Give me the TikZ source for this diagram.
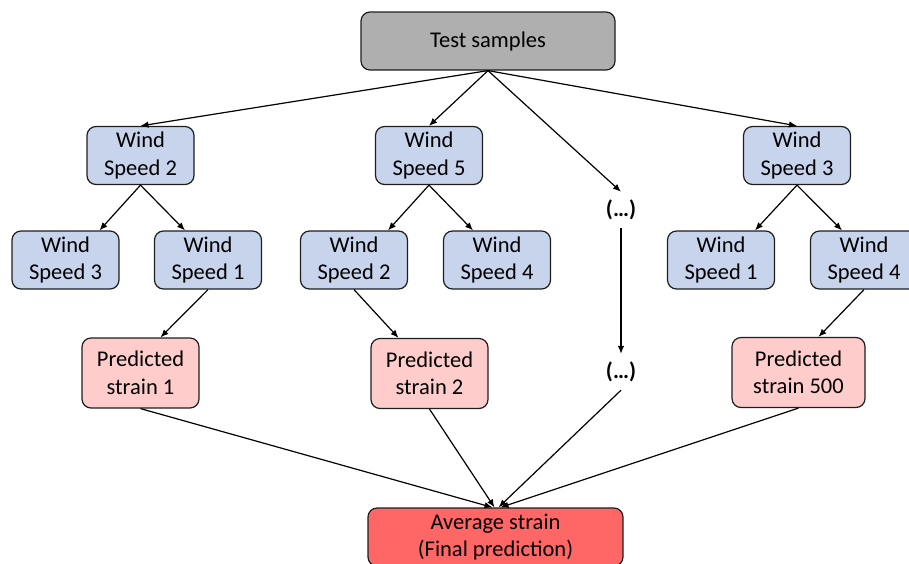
\documentclass[tikz,border=0pt]{standalone}
\usepackage{fontspec}
\setmainfont{Carlito}
\usetikzlibrary{arrows.meta}
\definecolor{boxgray}{HTML}{AFAFAF}
\definecolor{boxblue}{HTML}{C7D4EC}
\definecolor{boxpink}{HTML}{FFCCCC}
\definecolor{boxred}{HTML}{FF6666}
\definecolor{edge}{HTML}{1E1E1E}
\tikzset{
  box/.style={draw=edge, line width=1.2pt, rounded corners=9pt, inner sep=0pt,
    align=center, font=\fontsize{22.5}{27.5}\selectfont},
  featbox/.style={box, fill=boxblue, minimum width=107pt, minimum height=58pt},
  predbox/.style={box, fill=boxpink, minimum height=70pt},
  more/.style={inner sep=0pt, minimum height=36pt, font=\fontsize{22.5}{27.5}\selectfont\bfseries},
  link/.style={draw=black, line width=1.2pt, -{Latex[length=8pt,width=6.5pt]}}
}
\begin{document}
\begin{tikzpicture}[x=1pt, y=-1pt]
\useasboundingbox (0,0) rectangle (909,563);

% root
\node[box, fill=boxgray, minimum width=254pt, minimum height=58pt] (test) at (488,41) {Test samples};

% first split of each tree
\node[featbox] (a) at (140.5,155.5) {Wind\\Speed 2};
\node[featbox] (b) at (429,155.5) {Wind\\Speed 5};
\node[featbox] (c) at (797,155.5) {Wind\\Speed 3};
\node[more] (d1) at (621,210) {(…)};

% second split
\node[featbox] (a1) at (65.5,260) {Wind\\Speed 3};
\node[featbox] (a2) at (208,260) {Wind\\Speed 1};
\node[featbox] (b1) at (354,260) {Wind\\Speed 2};
\node[featbox] (b2) at (497,260) {Wind\\Speed 4};
\node[featbox] (c1) at (721,260) {Wind\\Speed 1};
\node[featbox] (c2) at (864,260) {Wind\\Speed 4};

% leaf predictions
\node[predbox, minimum width=117pt] (p1) at (140.5,373) {Predicted\\strain 1};
\node[predbox, minimum width=117pt] (p2) at (429.5,373.5) {Predicted\\strain 2};
\node[predbox, minimum width=133pt] (p3) at (798.5,372.5) {Predicted\\strain 500};
\node[more] (d2) at (621,372) {(…)};

% aggregate
\node[box, fill=boxred, minimum width=255pt, minimum height=58pt] (avg) at (495.5,537) {Average strain\\(Final prediction)};

% connectors
\draw[link] (test.south) -- (a.north);
\draw[link] (test.south) -- (b.north);
\draw[link] (test.south) -- (d1.north);
\draw[link] (test.south) -- (c.north);

\draw[link] (a.south) -- ([xshift=34pt]a1.north);
\draw[link] (a.south) -- ([xshift=-23pt]a2.north);
\draw[link] (b.south) -- ([xshift=34pt]b1.north);
\draw[link] (b.south) -- ([xshift=-24pt]b2.north);
\draw[link] (c.south) -- ([xshift=34pt]c1.north);
\draw[link] (c.south) -- ([xshift=-22pt]c2.north);

\draw[link] (a2.south) -- ([xshift=20pt]p1.north);
\draw[link] (b1.south) -- ([xshift=-31pt]p2.north);
\draw[link] (d1.south) -- (d2.north);
\draw[link] (c2.south) -- ([xshift=20pt]p3.north);

\draw[link] (p1.south) -- ([xshift=-3pt]avg.north);
\draw[link] (p2.south) -- ([xshift=-1pt]avg.north);
\draw[link] (d2.south) -- ([xshift=3pt]avg.north);
\draw[link] (p3.south) -- ([xshift=5pt]avg.north);
\end{tikzpicture}
\end{document}
